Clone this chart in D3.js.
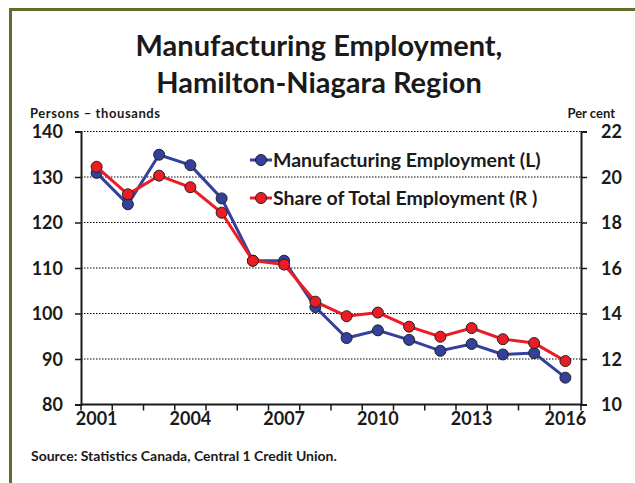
<!DOCTYPE html>
<html><head><meta charset="utf-8">
<script src="https://cdn.jsdelivr.net/npm/d3@7"></script>
<style>body{margin:0;background:#fff}svg{display:block}text{font-family:Lato,"Open Sans",sans-serif;font-weight:bold;fill:#1a1a1a}</style>
</head><body><svg id="c" width="635" height="483"></svg>
<script>
const years = [2001,2002,2003,2004,2005,2006,2007,2008,2009,2010,2011,2012,2013,2014,2015,2016];
const employment = [130.9,124.0,134.9,132.6,125.3,111.6,111.6,101.4,94.6,96.3,94.2,91.8,93.3,91.0,91.3,85.9];
const share = [20.45,19.24,20.06,19.55,18.43,16.32,16.15,14.52,13.88,14.04,13.42,12.98,13.36,12.87,12.70,11.91];
const yearLabels = [2001,2004,2007,2010,2013,2016];
const leftTicks = [80,90,100,110,120,130,140];
const rightTicks = [10,12,14,16,18,20,22];
const seriesNames = ["Manufacturing Employment (L)","Share of Total Employment (R )"];
const colors = ["#33409c","#ec1c24"];

const svg = d3.select("#c");
const L=81, R=581, T=131.5, B=404.5;
const x = d3.scaleBand().domain(years).range([L,R]);
const yL = d3.scaleLinear().domain([80,140]).range([B,T]);
const yR = d3.scaleLinear().domain([10,22]).range([B,T]);

// border
svg.append("path").attr("d","M10.5,483 V9.5 H635").attr("fill","none").attr("stroke","#666a2c").attr("stroke-width",3);

// title
svg.append("text").attr("x",319).attr("y",56).attr("text-anchor","middle").style("font-size","29px").text("Manufacturing Employment,");
svg.append("text").attr("x",319).attr("y",93).attr("text-anchor","middle").style("font-size","29px").text("Hamilton-Niagara Region");
svg.append("text").attr("x",30).attr("y",118).style("font-size","13px").attr("textLength",130).text("Persons – thousands");
svg.append("text").attr("x",615).attr("y",118).attr("text-anchor","end").style("font-size","13px").text("Per cent");

// gridlines
svg.append("g").selectAll("line").data(leftTicks.slice(1)).join("line")
  .attr("x1",L).attr("x2",R).attr("y1",d=>yL(d)).attr("y2",d=>yL(d))
  .attr("stroke","#000").attr("stroke-width",1.2).attr("stroke-dasharray","1.5,1.5");

// axes
const gl = svg.append("g").attr("transform",`translate(${L},0)`)
  .call(d3.axisLeft(yL).tickValues(leftTicks).tickSize(6).tickPadding(12));
const gr = svg.append("g").attr("transform",`translate(${R},0)`)
  .call(d3.axisRight(yR).tickValues(rightTicks).tickSize(6).tickPadding(14));
const gx = svg.append("g").attr("transform",`translate(0,${B})`)
  .call(d3.axisBottom(x).tickSize(0).tickFormat(d=>yearLabels.includes(d)?d:"").tickPadding(8));
[gl,gr,gx].forEach(g=>{
  g.select(".domain").attr("stroke","#1a1a1a").attr("stroke-width",2);
  g.selectAll(".tick line").attr("stroke","#1a1a1a").attr("stroke-width",1.5);
  g.selectAll("text").style("font-size","18px").attr("fill","#1a1a1a");
});
gl.selectAll("text").attr("dy","0.36em");
gr.selectAll("text").attr("dy","0.36em");
gx.select(".domain").attr("d",`M${L},0H${R}`);
// x ticks at band boundaries
const bounds = years.map(d=>x(d)).concat([R]);
svg.append("g").selectAll("line").data(bounds).join("line")
  .attr("x1",d=>d).attr("x2",d=>d).attr("y1",B).attr("y2",B+6)
  .attr("stroke","#1a1a1a").attr("stroke-width",1.5);

const cx = d=>x(d)+x.bandwidth()/2;
const series = [
  {vals:employment, y:yL, c:colors[0]},
  {vals:share, y:yR, c:colors[1]}
];
series.forEach(s=>{
  svg.append("path").datum(years.map((d,i)=>[cx(d),s.y(s.vals[i])]))
    .attr("d",d3.line()).attr("fill","none").attr("stroke",s.c).attr("stroke-width",3);
  svg.append("g").selectAll("circle").data(years).join("circle")
    .attr("cx",d=>cx(d)).attr("cy",(d,i)=>s.y(s.vals[i])).attr("r",5.5)
    .attr("fill",s.c).attr("stroke","#222").attr("stroke-width",1);
});

// legend
const lg = svg.append("g");
seriesNames.forEach((n,i)=>{
  const yy = 160 + i*38;
  lg.append("line").attr("x1",250).attr("x2",272).attr("y1",yy).attr("y2",yy).attr("stroke",colors[i]).attr("stroke-width",3);
  lg.append("circle").attr("cx",261).attr("cy",yy).attr("r",5.5).attr("fill",colors[i]).attr("stroke","#222").attr("stroke-width",1);
  lg.append("text").attr("x",273).attr("y",yy).attr("dy","0.36em").style("font-size","19.5px").text(n);
});

svg.append("text").attr("x",31).attr("y",461).style("font-size","14px").text("Source: Statistics Canada, Central 1 Credit Union.");
</script></body></html>
